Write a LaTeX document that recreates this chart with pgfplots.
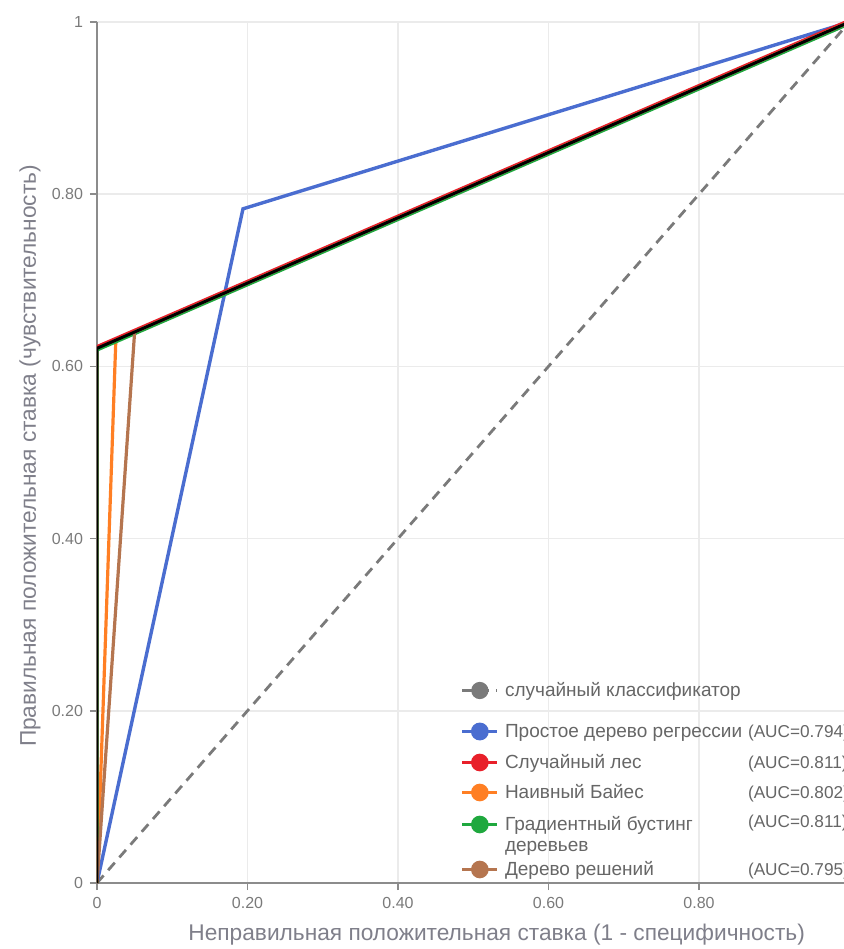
\documentclass[border=0pt]{standalone}
\usepackage{fontspec}
\setmainfont{Liberation Sans}
\usepackage{pgfplots}
\pgfplotsset{compat=1.18}
\definecolor{cBlue}{HTML}{4A6DD0}
\definecolor{cRed}{HTML}{E8202A}
\definecolor{cOrange}{HTML}{FF7F24}
\definecolor{cGreen}{HTML}{1FA83E}
\definecolor{cBrown}{HTML}{B5754F}
\definecolor{cGray}{HTML}{7A7A7A}
\definecolor{cText}{HTML}{7F7F8A}
\definecolor{cLeg}{HTML}{666666}
\definecolor{cGrid}{HTML}{EBEBEB}
\definecolor{cAxis}{HTML}{8C8C8C}
\newcommand{\rowstrut}[2]{\rule[-#2]{0pt}{\dimexpr#1+#2\relax}}
\newcommand{\auc}[1]{{\fontsize{8.6}{10}\selectfont(AUC=#1)}}
\begin{document}
\begin{tikzpicture}
\useasboundingbox (-48.5pt,-33pt) rectangle (373.5pt,441.5pt);
\begin{axis}[
  at={(0pt,0pt)}, anchor=south west,
  scale only axis, width=373.5pt, height=430.5pt,
  xmin=0, xmax=0.9927, ymin=0, ymax=1,
  axis x line*=bottom, axis y line*=left,
  axis line style={cAxis, line width=1pt},
  xtick={0,0.2,0.4,0.6,0.8}, xticklabels={0,0.20,0.40,0.60,0.80},
  ytick={0,0.2,0.4,0.6,0.8,1}, yticklabels={0,0.20,0.40,0.60,0.80,1},
  tick align=outside, major tick length=3.5pt,
  tick style={cAxis, line width=0.8pt},
  grid=major, grid style={cGrid, line width=0.8pt},
  ticklabel style={font=\fontsize{8}{9.6}\selectfont, text=cGray},
  xlabel={Неправильная положительная ставка (1 - специфичность)},
  ylabel={Правильная положительная ставка (чувствительность)},
  label style={font=\fontsize{11.35}{13}\selectfont, text=cText},
  xlabel style={at={(axis description cs:0.535,-0.0604)}, anchor=center},
  ylabel style={at={(axis description cs:-0.0897,0.496)}, anchor=center},
  legend image code/.code={
    \draw[#1] (0pt,3pt) -- (17.5pt,3pt);
    \fill[#1,solid] (8.75pt,3pt) circle (3.6pt);
  },
  legend style={at={(axis cs:0.4827,0.2403)}, anchor=north west, draw=none, fill=none,
    font=\fontsize{9.5}{10.5}\selectfont, text=cLeg, row sep=0pt,
    inner sep=0pt,
    nodes={inner ysep=0pt, inner xsep=3pt, text depth={}}},
  legend cell align=left,
  legend style={cells={anchor=base west}},
]
\addplot[cGray, line width=1.4pt, dash pattern=on 5pt off 3.5pt] coordinates {(0,0) (1,1)};
\addlegendentry{\rowstrut{10pt}{10.5pt}случайный классификатор}
\addplot[cBlue, line width=1.7pt] coordinates {(0,0) (0.194,0.783) (1,1)};
\addlegendentry{\rowstrut{10pt}{5.5pt}\makebox[121.5pt][l]{Простое дерево регрессии}\auc{0.794}}
\addplot[cRed, line width=1.6pt] coordinates {(0,0) (0,0.623) (1,1.002)};
\addlegendentry{\rowstrut{10pt}{5pt}\makebox[121.5pt][l]{Случайный лес}\auc{0.811}}
\addplot[cOrange, line width=1.6pt] coordinates {(0,0) (0.025,0.63) (1,1)};
\addlegendentry{\rowstrut{10pt}{6pt}\makebox[121.5pt][l]{Наивный Байес}\auc{0.802}}
\addplot[cGreen, line width=1.6pt] coordinates {(0,0) (0,0.619) (1,0.998)};
\addlegendentry{\rowstrut{10pt}{12.5pt}\parbox[t]{121.5pt}{Градиентный бустинг\\деревьев}\raisebox{1.5pt}{\auc{0.811}}}
\addplot[cBrown, line width=1.6pt] coordinates {(0,0) (0.05,0.64) (1,1)};
\addlegendentry{\rowstrut{10pt}{3pt}\makebox[121.5pt][l]{Дерево решений}\auc{0.795}}
\addplot[black, line width=1.5pt, forget plot] coordinates {(0,0) (0,0.621) (1,1)};
\end{axis}
\end{tikzpicture}
\end{document}
